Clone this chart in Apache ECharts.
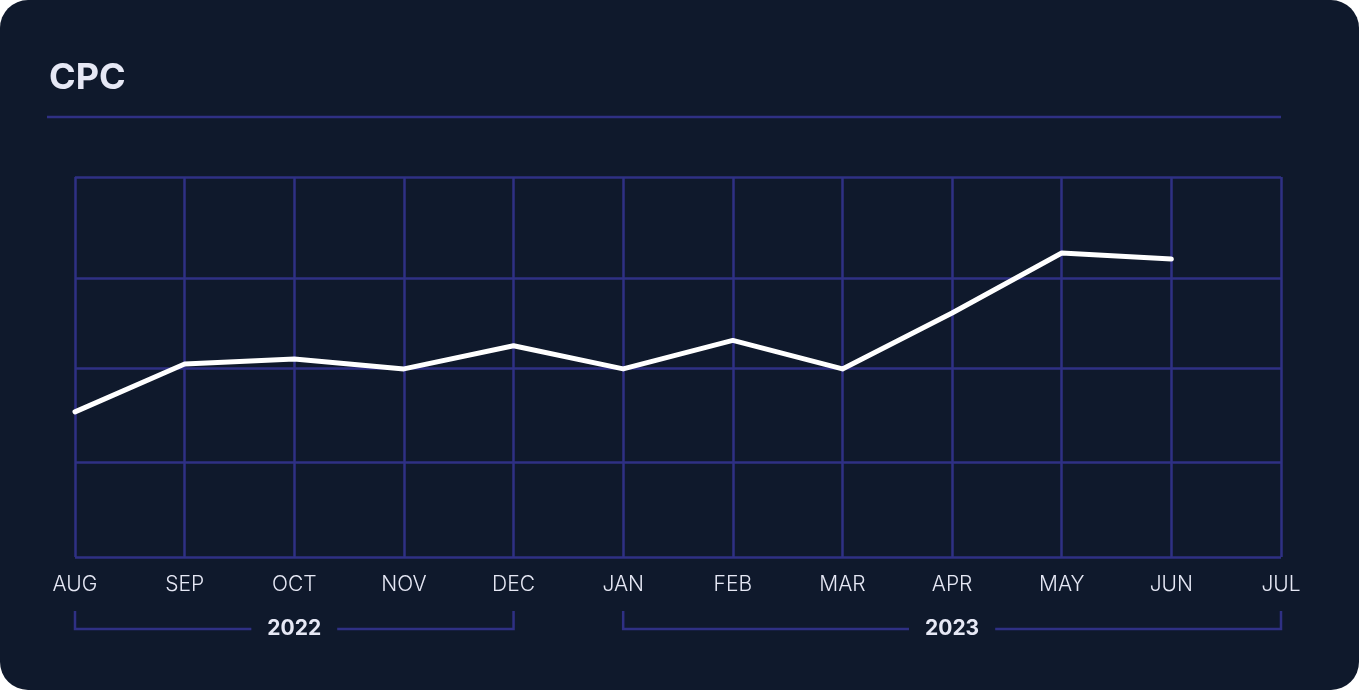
<!DOCTYPE html>
<html>
<head>
<meta charset="utf-8">
<script src="https://cdn.jsdelivr.net/npm/echarts@6/dist/echarts.min.js"></script>
<style>
  html, body { margin: 0; padding: 0; background: #ffffff; }
  #card { width: 1359px; height: 690px; background: #0F192C; border-radius: 28px; overflow: hidden; }
  #chart { width: 1359px; height: 690px; }
</style>
</head>
<body>
<div id="card"><div id="chart"></div></div>
<script>
const titleText = 'CPC';
const months = ['AUG', 'SEP', 'OCT', 'NOV', 'DEC', 'JAN', 'FEB', 'MAR', 'APR', 'MAY', 'JUN', 'JUL'];
const cpcValues = [38.2, 50.8, 52.1, 49.5, 55.6, 49.5, 57.0, 49.5, 64.2, 80.0, 78.4, null];
const yGridValues = [0, 25, 49.7, 73.4, 100];
const yearLabels = ['2022', '2023'];
const yearStarts = ['AUG', 'JAN'];
const yearEnds = ['DEC', 'JUL'];

const gridColor = '#2F3084';
const textColor = '#E6E8F5';

const chart = echarts.init(document.getElementById('chart'), null, { renderer: 'canvas' });

chart.setOption({
  backgroundColor: 'transparent',
  animation: false,
  title: {
    text: titleText,
    left: 44,
    top: 55,
    textStyle: { color: textColor, fontFamily: 'Inter', fontWeight: 'bold', fontSize: 36 }
  },
  grid: { left: 75, right: 78, top: 177, bottom: 133, containLabel: false },
  xAxis: {
    type: 'category',
    data: months,
    boundaryGap: false,
    axisLine: { show: false },
    axisTick: { show: false },
    axisLabel: { color: textColor, fontFamily: 'Inter', fontWeight: 300, fontSize: 21, margin: 17 },
    splitLine: { show: true, lineStyle: { color: gridColor, width: 2.5 } }
  },
  yAxis: {
    type: 'value',
    min: 0,
    max: 100,
    axisLine: { show: false },
    axisTick: { show: false, customValues: yGridValues },
    axisLabel: { show: false, customValues: yGridValues },
    splitLine: { show: true, lineStyle: { color: gridColor, width: 2.5 } }
  },
  series: [{
    type: 'line',
    data: cpcValues,
    symbol: 'none',
    lineStyle: { color: '#FFFFFF', width: 5, cap: 'round', join: 'round' },
    z: 5
  }]
});

function measure(text, font) {
  const c = document.createElement('canvas').getContext('2d');
  c.font = font;
  return c.measureText(text).width;
}

function drawDecor() {
  const elements = [];
  const right = chart.convertToPixel({ xAxisIndex: 0 }, months[months.length - 1]);
  elements.push({
    type: 'line',
    shape: { x1: 47, y1: 117, x2: right, y2: 117 },
    style: { stroke: gridColor, lineWidth: 2.5 }
  });
  const yLine = 629, yTop = 611;
  const font = 'bold 21px Inter';
  yearLabels.forEach((lab, i) => {
    const x1 = chart.convertToPixel({ xAxisIndex: 0 }, yearStarts[i]);
    const x2 = chart.convertToPixel({ xAxisIndex: 0 }, yearEnds[i]);
    const cx = (x1 + x2) / 2;
    const w = measure(lab, font);
    const gap = w / 2 + 16;
    elements.push({
      type: 'polyline',
      shape: { points: [[x1, yTop], [x1, yLine], [cx - gap, yLine]] },
      style: { stroke: gridColor, lineWidth: 2.5, fill: null }
    });
    elements.push({
      type: 'polyline',
      shape: { points: [[cx + gap, yLine], [x2, yLine], [x2, yTop]] },
      style: { stroke: gridColor, lineWidth: 2.5, fill: null }
    });
    elements.push({
      type: 'text',
      x: cx, y: yLine,
      style: { text: lab, fill: textColor, font: font, align: 'center', verticalAlign: 'middle' }
    });
  });
  chart.setOption({ graphic: { elements: elements } });
}
drawDecor();
</script>
</body>
</html>
